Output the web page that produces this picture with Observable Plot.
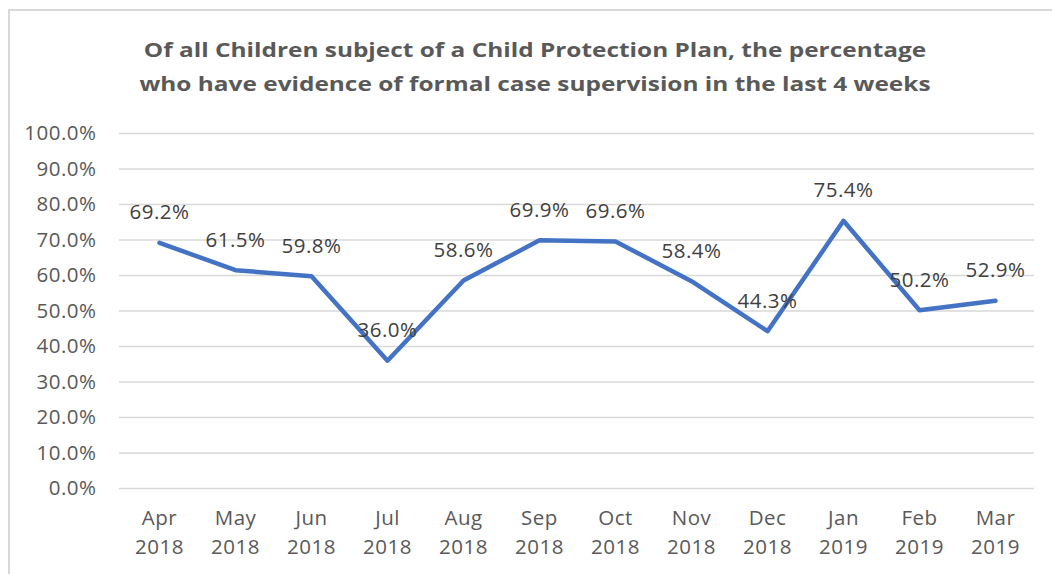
<!DOCTYPE html>
<html><head><meta charset="utf-8">
<script src="https://cdn.jsdelivr.net/npm/d3@7"></script>
<script src="https://cdn.jsdelivr.net/npm/@observablehq/plot@0.6"></script>
<style>
body{margin:0;background:#fff;}
#wrap{position:relative;width:1052px;height:574px;overflow:hidden;font-family:"Open Sans",sans-serif;background:#fff;}
#frame{position:absolute;left:8px;top:9px;width:1100px;height:600px;border-left:2px solid #d9d9d9;border-top:2px solid #d9d9d9;}
#title{position:absolute;left:0;top:33px;width:1070px;text-align:center;font-weight:bold;font-size:20px;line-height:34px;color:#595959;transform:scaleX(1.22);transform-origin:535px 0;}
#chart{position:absolute;left:0;top:110px;}
</style></head>
<body>
<div id="wrap">
<div id="frame"></div>
<div id="title">Of all Children subject of a Child Protection Plan, the percentage<br>who have evidence of formal case supervision in the last 4 weeks</div>
<div id="chart"></div>
</div>
<script>
const months = ["Apr","May","Jun","Jul","Aug","Sep","Oct","Nov","Dec","Jan","Feb","Mar"];
const years = ["2018","2018","2018","2018","2018","2018","2018","2018","2018","2019","2019","2019"];
const values = [69.2,61.5,59.8,36.0,58.6,69.9,69.6,58.4,44.3,75.4,50.2,52.9];
const yTicks = [0,10,20,30,40,50,60,70,80,90,100];

const data = months.map((m,i)=>({key:m+" "+years[i], label:m+"\n"+years[i], v:values[i]}));
const font = '"Open Sans", sans-serif';

const chart = Plot.plot({
  width:1052, height:464,
  marginLeft:119, marginRight:18, marginTop:23, marginBottom:86,
  style:{fontFamily:font, background:"transparent", letterSpacing:"0.5px"},
  x:{type:"point", domain:data.map(d=>d.key), padding:0.5, axis:null},
  y:{domain:[0,100], axis:null},
  marks:[
    Plot.gridY(yTicks,{stroke:"#d9d9d9", strokeOpacity:1, strokeWidth:1.5}),
    Plot.axisY(yTicks,{tickSize:0, tickPadding:23, label:null, tickFormat:d=>d.toFixed(1)+"%", fontSize:20.5, fill:"#595959", anchor:"left"}),
    Plot.text(data,{x:"key", y:()=>0, text:"label", dy:42, lineAnchor:"middle", lineHeight:1.42, fontSize:20.5, fill:"#595959"}),
    Plot.line(data,{x:"key", y:"v", stroke:"#4472C4", strokeWidth:4.5, strokeLinejoin:"round", strokeLinecap:"round"}),
    Plot.text(data,{x:"key", y:"v", text:d=>d.v.toFixed(1)+"%", dy:-30, fontSize:20.5, fill:"#404040"})
  ]
});
document.getElementById("chart").appendChild(chart);
</script>
</body></html>
